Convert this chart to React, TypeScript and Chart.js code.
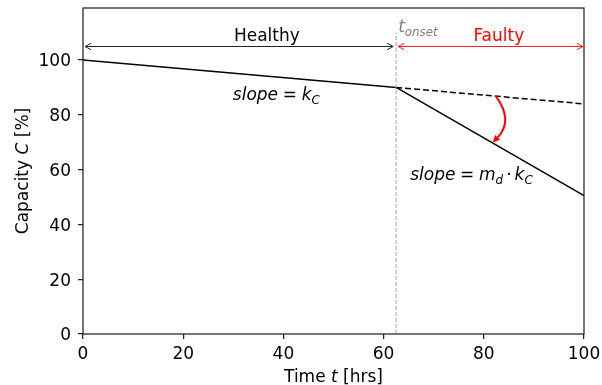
import React, { useEffect, useRef } from 'react';
import { Chart, registerables } from 'chart.js';

Chart.register(...registerables);

// ---- data ----
const healthyTime = [0, 62.5];
const healthyCapacity = [100, 90];
const expectedTime = [62.5, 100];
const expectedCapacity = [90, 84];
const faultyTime = [62.5, 100];
const faultyCapacity = [90, 50.5];
const onsetTime = 62.5;
const onsetLineCapacity = [0, 110];
const xTicks = [0, 20, 40, 60, 80, 100];
const yTicks = [0, 20, 40, 60, 80, 100];
const xRange = [0, 100];
const yRange = [0, 119];
const phaseArrowLevel = 105;
const healthySpan = [0, 62.5];
const faultySpan = [62.5, 100];
const curveStart = [82.4, 86.8];
const curveEnd = [81.8, 69.9];

// ---- annotation placement (data coords) ----
const healthyLabelPos = [36.7, 106.8];
const faultyLabelPos = [83.0, 106.8];
const onsetLabelPos = [62.9, 110.1];
const slopeHealthyPos = [29.9, 85.3];
const slopeFaultyPos = [65.3, 56.3];

const FONT = '"DejaVu Sans"';
const BASE = 17;

type Seg = { t: string; it?: boolean; sub?: boolean; gap?: number };

function segFont(s: Seg, base: number) {
  const size = s.sub ? base * 0.7 : base;
  return `${s.it ? 'italic ' : ''}${size}px ${FONT}`;
}

function drawRich(ctx: CanvasRenderingContext2D, segs: Seg[], x: number, y: number, align: 'left' | 'center', color: string, base = BASE) {
  ctx.save();
  ctx.fillStyle = color;
  ctx.textBaseline = 'alphabetic';
  ctx.textAlign = 'left';
  let w = 0;
  const ws = segs.map((s) => {
    ctx.font = segFont(s, base);
    const m = ctx.measureText(s.t).width;
    w += (s.gap || 0) + m;
    return m;
  });
  let cx = align === 'center' ? x - w / 2 : x;
  segs.forEach((s, i) => {
    cx += s.gap || 0;
    ctx.font = segFont(s, base);
    ctx.fillText(s.t, cx, y + (s.sub ? base * 0.24 : 0));
    cx += ws[i];
  });
  ctx.restore();
}

function openHead(ctx: CanvasRenderingContext2D, tx: number, ty: number, dir: number) {
  const L = 6, H = 3.2;
  ctx.beginPath();
  ctx.moveTo(tx - dir * L, ty - H);
  ctx.lineTo(tx, ty);
  ctx.lineTo(tx - dir * L, ty + H);
  ctx.stroke();
}

function doubleArrow(ctx: CanvasRenderingContext2D, x1: number, x2: number, y: number, color: string) {
  ctx.save();
  ctx.strokeStyle = color;
  ctx.lineWidth = 1;
  ctx.beginPath();
  ctx.moveTo(x1, y);
  ctx.lineTo(x2, y);
  ctx.stroke();
  openHead(ctx, x1, y, -1);
  openHead(ctx, x2, y, 1);
  ctx.restore();
}

const annotPlugin = {
  id: 'annot',
  afterDatasetsDraw(chart: any) {
    const { ctx, chartArea, scales } = chart;
    const { left, right, top, bottom } = chartArea;
    const xs = scales.x, ys = scales.y;
    const px = (v: number) => xs.getPixelForValue(v);
    const py = (v: number) => ys.getPixelForValue(v);

    // phase arrows
    const ay = Math.round(py(phaseArrowLevel)) + 0.5;
    doubleArrow(ctx, px(healthySpan[0]) + 2, px(healthySpan[1]) - 3, ay, '#222');
    doubleArrow(ctx, px(faultySpan[0]) + 2, px(faultySpan[1]) - 1, ay, '#ff2020');

    // labels
    drawRich(ctx, [{ t: 'Healthy' }], px(healthyLabelPos[0]), py(healthyLabelPos[1]), 'center', '#000');
    drawRich(ctx, [{ t: 'Faulty' }], px(faultyLabelPos[0]), py(faultyLabelPos[1]), 'center', '#ff0000');
    drawRich(ctx, [{ t: 't', it: true }, { t: 'onset', it: true, sub: true }], px(onsetLabelPos[0]), py(onsetLabelPos[1]), 'left', '#808080');
    drawRich(ctx, [
      { t: 'slope', it: true },
      { t: '=', gap: 4.7 },
      { t: 'k', it: true, gap: 4.7 },
      { t: 'C', it: true, sub: true },
    ], px(slopeHealthyPos[0]), py(slopeHealthyPos[1]), 'left', '#000');
    drawRich(ctx, [
      { t: 'slope', it: true },
      { t: '=', gap: 4.7 },
      { t: 'm', it: true, gap: 4.7 },
      { t: 'd', it: true, sub: true },
      { t: '·', gap: 3 },
      { t: 'k', it: true, gap: 3 },
      { t: 'C', it: true, sub: true },
    ], px(slopeFaultyPos[0]), py(slopeFaultyPos[1]), 'left', '#000');

    // curved red arrow
    const sx = px(curveStart[0]), sy = py(curveStart[1]);
    const ex = px(curveEnd[0]), ey = py(curveEnd[1]);
    const rad = 0.42;
    const dx = ex - sx, dy = ey - sy;
    const cx = (sx + ex) / 2 + rad * dy;
    const cy = (sy + ey) / 2 - rad * dx;
    let tx = ex - cx, ty = ey - cy;
    const tl = Math.hypot(tx, ty);
    tx /= tl; ty /= tl;
    const HL = 7, HW = 3.5;
    const bx = ex - tx * HL, by = ey - ty * HL;
    ctx.save();
    ctx.strokeStyle = '#ff0000';
    ctx.fillStyle = '#ff0000';
    ctx.lineWidth = 2;
    ctx.beginPath();
    ctx.moveTo(sx, sy);
    ctx.quadraticCurveTo(cx, cy, bx, by);
    ctx.stroke();
    ctx.beginPath();
    ctx.moveTo(ex, ey);
    ctx.lineTo(bx - ty * HW, by + tx * HW);
    ctx.lineTo(bx + ty * HW, by - tx * HW);
    ctx.closePath();
    ctx.fill();
    ctx.restore();

    // frame
    ctx.save();
    ctx.strokeStyle = '#222';
    ctx.lineWidth = 1.25;
    ctx.strokeRect(left, top, right - left, bottom - top);
    ctx.restore();

    // axis titles
    drawRich(ctx, [{ t: 'Time ' }, { t: 't', it: true }, { t: ' [hrs]' }], (left + right) / 2, 382, 'center', '#000');
    ctx.save();
    ctx.translate(28, (top + bottom) / 2);
    ctx.rotate(-Math.PI / 2);
    drawRich(ctx, [{ t: 'Capacity ' }, { t: 'C', it: true }, { t: ' [%]' }], 0, 0, 'center', '#000');
    ctx.restore();
  },
};

function pts(xs: number[], ys: number[]) {
  return xs.map((x, i) => ({ x, y: ys[i] }));
}

export default function App() {
  const ref = useRef<HTMLCanvasElement | null>(null);
  useEffect(() => {
    document.body.style.margin = '0';
    if (!ref.current) return;
    const chart = new Chart(ref.current, {
      type: 'scatter',
      data: {
        datasets: [
          {
            data: pts([onsetTime, onsetTime], onsetLineCapacity),
            showLine: true, borderColor: '#a0a0a0', borderWidth: 1, borderDash: [4, 2], pointRadius: 0,
          },
          {
            data: pts(healthyTime, healthyCapacity),
            showLine: true, borderColor: '#000', borderWidth: 1.5, pointRadius: 0,
          },
          {
            data: pts(expectedTime, expectedCapacity),
            showLine: true, borderColor: '#000', borderWidth: 1.5, borderDash: [6, 3], pointRadius: 0,
          },
          {
            data: pts(faultyTime, faultyCapacity),
            showLine: true, borderColor: '#000', borderWidth: 1.5, pointRadius: 0,
          },
        ],
      },
      options: {
        animation: false,
        responsive: false,
        devicePixelRatio: 1,
        layout: { padding: { top: 8, right: 18, left: 0, bottom: 0 } },
        plugins: { legend: { display: false }, tooltip: { enabled: false } },
        scales: {
          x: {
            type: 'linear', min: xRange[0], max: xRange[1],
            border: { display: false },
            grid: { drawOnChartArea: false, drawTicks: true, tickLength: 5, color: '#222', lineWidth: 1.25 },
            ticks: { font: { family: 'DejaVu Sans', size: BASE }, color: '#000', padding: 5, maxRotation: 0 },
            afterBuildTicks: (s: any) => { s.ticks = xTicks.map((v) => ({ value: v })); },
            afterFit: (s: any) => { s.height = 51; s.paddingLeft = 0; s.paddingRight = 0; },
          },
          y: {
            type: 'linear', min: yRange[0], max: yRange[1],
            border: { display: false },
            grid: { drawOnChartArea: false, drawTicks: true, tickLength: 5, color: '#222', lineWidth: 1.25 },
            ticks: { font: { family: 'DejaVu Sans', size: BASE }, color: '#000', padding: 7, labelOffset: 2 },
            afterBuildTicks: (s: any) => { s.ticks = yTicks.map((v) => ({ value: v })); },
            afterFit: (s: any) => { s.width = 83; s.paddingTop = 0; s.paddingBottom = 0; },
          },
        },
      },
      plugins: [annotPlugin],
    } as any);
    return () => chart.destroy();
  }, []);
  return (
    <div style={{ width: 602, height: 385 }}>
      <canvas ref={ref} width={602} height={385} />
    </div>
  );
}
